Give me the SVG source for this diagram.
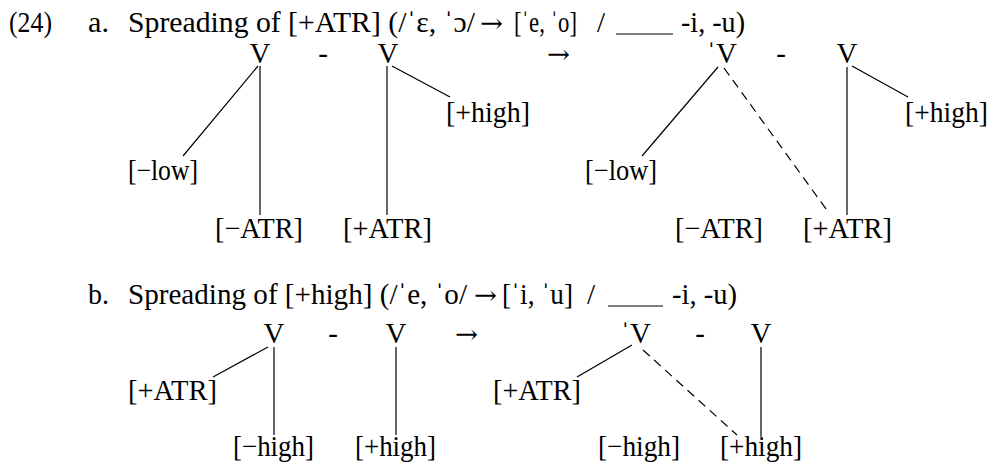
<svg xmlns="http://www.w3.org/2000/svg" width="992" height="465" viewBox="0 0 992 465">
<style>
text{font-family:"Liberation Serif","Times New Roman",serif;font-size:29px;fill:#000}
.m{text-anchor:middle}
.e{text-anchor:end}
.ar{font-family:"DejaVu Serif",serif;font-size:26px}
line{stroke:#000;stroke-width:1.2}
.d{stroke-dasharray:9 6}
</style>
<rect width="992" height="465" fill="#fff"/>
<g id="header-a">
<text x="9" y="32" textLength="43" lengthAdjust="spacingAndGlyphs">(24)</text>
<text x="88" y="32" textLength="21" lengthAdjust="spacingAndGlyphs">a.</text>
<text x="128" y="32" textLength="347" lengthAdjust="spacingAndGlyphs">Spreading of [+ATR] (/ˈɛ, ˈɔ/</text>
<text x="480" y="32" class="ar" textLength="23" lengthAdjust="spacingAndGlyphs">→</text>
<text x="514" y="32" textLength="63" lengthAdjust="spacingAndGlyphs">[ˈe, ˈo]</text>
<text x="597" y="32">/</text>
<line x1="616" y1="34" x2="673" y2="34"/>
<text x="681" y="32" textLength="64" lengthAdjust="spacingAndGlyphs">-i, -u)</text>
</g>
<g id="header-b">
<text x="88" y="304" textLength="21" lengthAdjust="spacingAndGlyphs">b.</text>
<text x="128" y="304" textLength="339" lengthAdjust="spacingAndGlyphs">Spreading of [+high] (/ˈe, ˈo/</text>
<text x="474" y="304" class="ar" textLength="23" lengthAdjust="spacingAndGlyphs">→</text>
<text x="502" y="304" textLength="71" lengthAdjust="spacingAndGlyphs">[ˈi, ˈu]</text>
<text x="587" y="304">/</text>
<line x1="608" y1="306" x2="663" y2="306"/>
<text x="672" y="304" textLength="65" lengthAdjust="spacingAndGlyphs">-i, -u)</text>
</g>
<g id="connectors">
<line x1="258" y1="66" x2="183" y2="156"/>
<line x1="260" y1="66" x2="260" y2="215"/>
<line x1="387" y1="66" x2="387" y2="215"/>
<line x1="392" y1="66" x2="450" y2="97"/>
<line x1="718" y1="67" x2="642" y2="156"/>
<line class="d" x1="724" y1="68" x2="829" y2="213"/>
<line x1="847" y1="67" x2="847" y2="215"/>
<line x1="852" y1="66" x2="908" y2="97"/>
<line x1="268" y1="347" x2="213" y2="377"/>
<line x1="274" y1="347" x2="274" y2="435"/>
<line x1="396" y1="347" x2="396" y2="435"/>
<line x1="632" y1="345" x2="577" y2="377"/>
<line class="d" x1="643" y1="350" x2="737" y2="435"/>
<line x1="761" y1="347" x2="761" y2="437"/>
</g>
<g id="tree-a-left">
<text x="260" y="63" class="m">V</text>
<text x="323" y="63" class="m">-</text>
<text x="388" y="63" class="m">V</text>
<text x="128" y="180" textLength="70" lengthAdjust="spacingAndGlyphs">[−low]</text>
<text x="215" y="238" textLength="88" lengthAdjust="spacingAndGlyphs">[−ATR]</text>
<text x="343" y="238" textLength="89" lengthAdjust="spacingAndGlyphs">[+ATR]</text>
<text x="446" y="122" textLength="84" lengthAdjust="spacingAndGlyphs">[+high]</text>
</g>
<g id="arrow-a">
<text x="547" y="63" class="ar" textLength="23" lengthAdjust="spacingAndGlyphs">→</text>
</g>
<g id="tree-a-right">
<text x="737" y="63" class="e">ˈV</text>
<text x="781" y="63" class="m">-</text>
<text x="847" y="63" class="m">V</text>
<text x="905" y="122" textLength="83" lengthAdjust="spacingAndGlyphs">[+high]</text>
<text x="585" y="180" textLength="72" lengthAdjust="spacingAndGlyphs">[−low]</text>
<text x="675" y="238" textLength="88" lengthAdjust="spacingAndGlyphs">[−ATR]</text>
<text x="803" y="238" textLength="89" lengthAdjust="spacingAndGlyphs">[+ATR]</text>
</g>
<g id="tree-b-left">
<text x="274" y="343" class="m">V</text>
<text x="333" y="343" class="m">-</text>
<text x="396" y="343" class="m">V</text>
<text x="128" y="400" textLength="89" lengthAdjust="spacingAndGlyphs">[+ATR]</text>
<text x="233" y="456" textLength="81" lengthAdjust="spacingAndGlyphs">[−high]</text>
<text x="355" y="456" textLength="81" lengthAdjust="spacingAndGlyphs">[+high]</text>
</g>
<g id="arrow-b">
<text x="455" y="343" class="ar" textLength="23" lengthAdjust="spacingAndGlyphs">→</text>
</g>
<g id="tree-b-right">
<text x="651" y="343" class="e">ˈV</text>
<text x="700" y="343" class="m">-</text>
<text x="761" y="343" class="m">V</text>
<text x="493" y="400" textLength="88" lengthAdjust="spacingAndGlyphs">[+ATR]</text>
<text x="598" y="456" textLength="82" lengthAdjust="spacingAndGlyphs">[−high]</text>
<text x="720" y="456" textLength="82" lengthAdjust="spacingAndGlyphs">[+high]</text>
</g>
</svg>
